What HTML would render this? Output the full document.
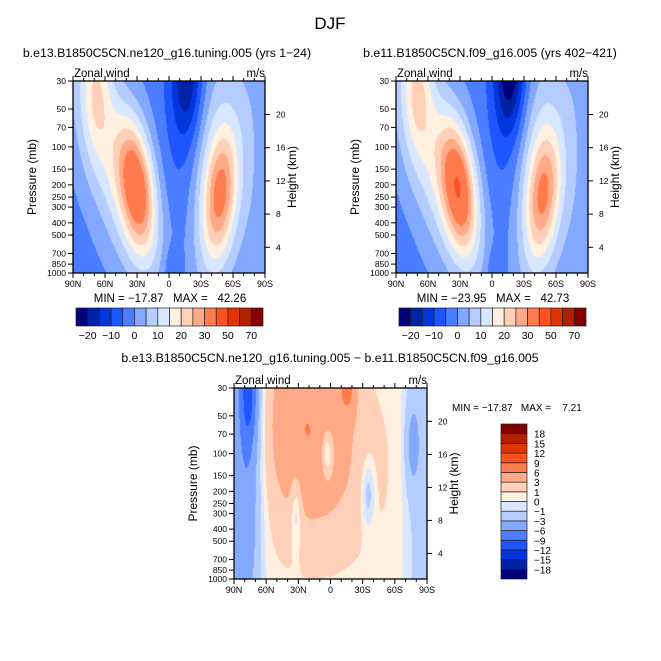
<!DOCTYPE html>
<html><head><meta charset="utf-8">
<style>
body{margin:0;background:#fff;width:661px;height:661px;overflow:hidden;position:relative;font-family:"Liberation Sans",sans-serif}
canvas{position:absolute}
svg{position:absolute;left:0;top:0}
text{font-family:"Liberation Sans",sans-serif;fill:#000}
</style></head><body>
<canvas id="cA" width="192" height="192" style="left:73px;top:81px"></canvas>
<canvas id="cB" width="192" height="192" style="left:396px;top:81px"></canvas>
<canvas id="cD" width="193" height="191" style="left:234px;top:388px"></canvas>
<svg id="ov" width="661" height="661"></svg>
<script>
// ---- data ----
const latTicks = [90,60,30,0,-30,-60,-90];
const latTickLabels = ["90N","60N","30N","0","30S","60S","90S"];
const presTicks = [30,50,70,100,150,200,250,300,400,500,700,850,1000];
const heightTicks = [4,8,12,16,20];
const absLevels = [-20,-15,-10,-5,0,5,10,15,20,25,30,40,50,60,70];
const absLabels = ["-20","-10","0","10","20","30","50","70"];
const diffLevels = [-18,-15,-12,-9,-6,-3,-1,0,1,3,6,9,12,15,18];
const palette = ["#00007a","#0022a6","#0036dc","#1d55ff","#4a7dff","#82a9ff","#b5ccff","#d7e7ff","#fff0df","#ffd0b7","#ffa986","#ff7b4d","#ff5020","#e23400","#b32000","#840000"];
// wind features: [lat, z(0=30mb,1=1000mb), amplitude m/s, lat width, z width, tilt]
const baseA = -2;
const featuresA = [
 [30,0.55,28,11,0.23,16],[48,0.45,17,22,0.42,45],[68,0.0,13,10,0.25,0],
 [-48,0.6,22,11,0.23,14],[-46,0.5,14,18,0.45,10],[-17,-0.05,-17,10,0.24,0],
 [-10,0.4,-4,14,0.5,0],
 [-82,0.5,4,12,1,0],[-3,0.98,-5,6,0.08,0],[85,0.95,-3,5,0.08,0]
];
const baseB = -2;
const featuresB = [
 [31,0.55,29,11,0.23,16],[49,0.45,17,22,0.42,45],[70,0.0,14,10,0.25,0],
 [-48,0.6,21,11,0.23,14],[-46,0.5,14,18,0.45,10],[-17,-0.08,-22,10,0.24,0],
 [-10,0.4,-4,14,0.5,0],
 [-82,0.5,4,12,1,0],[-3,0.98,-5,6,0.08,0],[85,0.95,-3,5,0.08,0]
];
const baseD = 0.5;
const featuresD = [
 [76,0.3,-4,9,0.6,0],[76,0.02,-6,6,0.2,0],[85,0.5,-3,12,3,0],
 [25,0.08,4,26,0.35,0],[-16,-0.02,5,6,0.12,0],[8,0.42,2.5,35,0.3,0],
 [3,0.34,-5,4,0.09,0],[32,0.63,-3,3.5,0.14,0],[-35,0.55,-3,4.5,0.13,0],
 [-88,0.5,-2.5,12,3,0],[-76,0.3,-3,5,0.18,0]
];
const statsA = ["-17.87","42.26"], statsB = ["-23.95","42.73"], statsD = ["-17.87","7.21"];

// ---- helpers ----
const zOf = p => Math.log(p/30)/Math.log(1000/30);
function field(base, feats, lat, z){
  let v = base;
  for (const f of feats){
    const lc = f[0] + (f[0]>=0?1:-1)*f[5]*(f[1]-z);
    const dl = (lat-lc)/f[3], dz = (z-f[1])/f[4];
    v += f[2]*Math.exp(-0.5*(dl*dl+dz*dz));
  }
  return v;
}
function hex(c){return [parseInt(c.slice(1,3),16),parseInt(c.slice(3,5),16),parseInt(c.slice(5,7),16)];}
const rgb = palette.map(hex);
function idx(v, lev){let i=0;while(i<lev.length && v>=lev[i]) i++;return i;}
function paint(id, base, feats, lev){
  const cv=document.getElementById(id), ctx=cv.getContext('2d');
  const W=cv.width,H=cv.height, im=ctx.createImageData(W,H);
  for(let y=0;y<H;y++)for(let x=0;x<W;x++){
    const lat=90-(x+0.5)/W*180, z=(y+0.5)/H;
    const c=rgb[idx(field(base,feats,lat,z),lev)], k=(y*W+x)*4;
    im.data[k]=c[0];im.data[k+1]=c[1];im.data[k+2]=c[2];im.data[k+3]=255;
  }
  ctx.putImageData(im,0,0);
}
paint('cA',baseA,featuresA,absLevels);
paint('cB',baseB,featuresB,absLevels);
paint('cD',baseD,featuresD,diffLevels);

const svg=document.getElementById('ov'), NS='http://www.w3.org/2000/svg';
function el(tag, attrs, txt){const e=document.createElementNS(NS,tag);for(const k in attrs)e.setAttribute(k,attrs[k]);if(txt!==undefined)e.textContent=txt;svg.appendChild(e);return e;}

function panel(x0,y0,W,H,key){
  const X=lat=>x0+(90-lat)/180*W, Y=p=>y0+zOf(p)*H;
  const fr=el('rect',{x:x0,y:y0,width:W,height:H,fill:'none',stroke:'#000','stroke-width':1.3});
  
  for(let lat=90;lat>=-90;lat-=10){
    const major=lat%30===0, L=major?5:3;
    el('line',{x1:X(lat),x2:X(lat),y1:y0+H,y2:y0+H+L,stroke:'#000'});
    el('line',{x1:X(lat),x2:X(lat),y1:y0,y2:y0-L,stroke:'#000'});
  }
  latTicks.forEach((lat,i)=>{const t=el('text',{x:X(lat),y:y0+H+14,'font-size':9,'text-anchor':'middle'},latTickLabels[i]);
    });
  presTicks.forEach(p=>{el('line',{x1:x0-5,x2:x0,y1:Y(p),y2:Y(p),stroke:'#000'});
    const t=el('text',{x:x0-7,y:Y(p)+3,'font-size':8.5,'text-anchor':'end'},String(p));
    });
  heightTicks.forEach(h=>{const yy=y0+(280.5-h*8.3-81)*H/192;
    el('line',{x1:x0+W,x2:x0+W+5,y1:yy,y2:yy,stroke:'#000'});
    const t=el('text',{x:x0+W+11,y:yy+3,'font-size':8.5},String(h));
    });
  let t=el('text',{x:0,y:0,'font-size':12,'text-anchor':'middle',transform:`translate(${x0-37},${y0+H/2}) rotate(-90)`},'Pressure (mb)');
  
  t=el('text',{x:0,y:0,'font-size':12,'text-anchor':'middle',transform:`translate(${x0+W+31},${y0+H/2}) rotate(-90)`},'Height (km)');
  
  t=el('text',{x:x0+1,y:y0-4,'font-size':11.5},'Zonal wind');
  
  t=el('text',{x:x0+W,y:y0-4,'font-size':11.5,'text-anchor':'end'},'m/s');
  
}
panel(73,81,192,192,'panel-a');
panel(396,81,192,192,'panel-b');
panel(234,388,193,191,'panel-diff');

let t=el('text',{x:330,y:29,'font-size':17,'text-anchor':'middle',fill:'#555'},'DJF');

t=el('text',{x:167,y:57,'font-size':12.3,'text-anchor':'middle'},'b.e13.B1850C5CN.ne120_g16.tuning.005 (yrs 1\u221224)');

t=el('text',{x:490,y:57,'font-size':12.3,'text-anchor':'middle'},'b.e11.B1850C5CN.f09_g16.005 (yrs 402\u2212421)');

t=el('text',{x:330,y:362,'font-size':12.3,'text-anchor':'middle'},'b.e13.B1850C5CN.ne120_g16.tuning.005 \u2212 b.e11.B1850C5CN.f09_g16.005');

const sp='\u00a0';
const mm=s=>'MIN'+sp+'='+sp+s[0].replace('-','\u2212')+sp+sp+sp+'MAX'+sp+'='+sp+sp+sp+s[1];
t=el('text',{x:170,y:302,'font-size':11.5,'text-anchor':'middle'},mm(statsA));

t=el('text',{x:493,y:302,'font-size':11.5,'text-anchor':'middle'},mm(statsB));

t=el('text',{x:452,y:411,'font-size':10},'MIN'+sp+'='+sp+'\u221217.87'+sp+sp+sp+'MAX'+sp+'='+sp+sp+sp+sp+statsD[1]);


// horizontal colorbars
function hbar(x0,y0,W,H,key){
  const bw=W/palette.length;
  palette.forEach((c,i)=>{const r=el('rect',{x:x0+i*bw,y:y0,width:bw,height:H,fill:c,stroke:'#222','stroke-width':0.7});
    });
  absLabels.forEach((s,i)=>{const b=1+2*i;
    const tt=el('text',{x:x0+b*bw,y:y0+H+13,'font-size':10.5,'text-anchor':'middle'},s.replace('-','\u2212'));
    });
}
hbar(76,308,187,18,'colorbar-a');
hbar(399,308,187,18,'colorbar-b');
// vertical colorbar
(function(){
  const x0=501,y0=424,W=26,H=155,bh=H/palette.length;
  palette.forEach((c,i)=>{const r=el('rect',{x:x0,y:y0+H-(i+1)*bh,width:W,height:bh,fill:c,stroke:'#222','stroke-width':0.7});
    });
  diffLevels.forEach((v,i)=>{const tt=el('text',{x:x0+W+7,y:y0+H-(i+1)*bh+4,'font-size':10},String(v).replace('-','\u2212'));
    });
})();
</script>
</body></html>
